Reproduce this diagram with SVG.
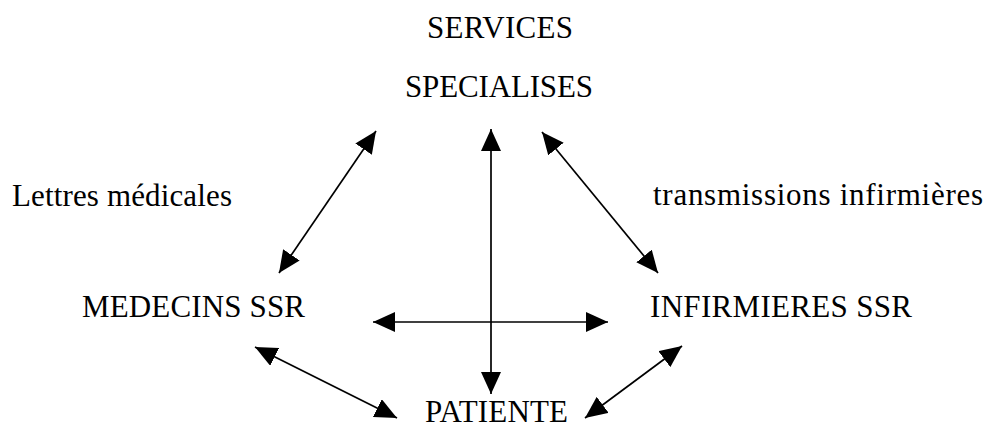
<svg xmlns="http://www.w3.org/2000/svg" width="989" height="429" viewBox="0 0 989 429">
<style>
text{font-family:"Liberation Serif","Times New Roman",serif;font-size:31px;fill:#000}
.c{stroke:#000;stroke-width:1.7;fill:none;marker-start:url(#ah);marker-end:url(#ah)}
</style>
<defs>
<marker id="ah" markerUnits="userSpaceOnUse" markerWidth="22" markerHeight="20" viewBox="0 0 22 20" refX="22" refY="10" orient="auto-start-reverse">
<path d="M0,0 L22,10 L0,20 z" fill="#000"/>
</marker>
</defs>
<rect width="989" height="429" fill="#fff"/>
<g id="services"><text x="427" y="38" textLength="146">SERVICES</text><text x="405" y="97" textLength="188">SPECIALISES</text></g>
<g id="medecins"><text x="82" y="317" textLength="223">MEDECINS SSR</text></g>
<g id="infirmieres"><text x="650" y="317" textLength="262">INFIRMIERES SSR</text></g>
<g id="patiente"><text x="425" y="422" textLength="143">PATIENTE</text></g>
<g id="labels"><text x="12" y="206" textLength="220">Lettres médicales</text><text x="653" y="205" textLength="330">transmissions infirmières</text></g>
<g id="connectors">
<line class="c" x1="376" y1="131" x2="279" y2="273"/>
<line class="c" x1="542" y1="132" x2="658" y2="273"/>
<line class="c" x1="491" y1="129" x2="491" y2="394"/>
<line class="c" x1="373" y1="322" x2="608" y2="322"/>
<line class="c" x1="255" y1="347" x2="397" y2="418"/>
<line class="c" x1="682" y1="346" x2="585" y2="418"/>
</g>
</svg>
